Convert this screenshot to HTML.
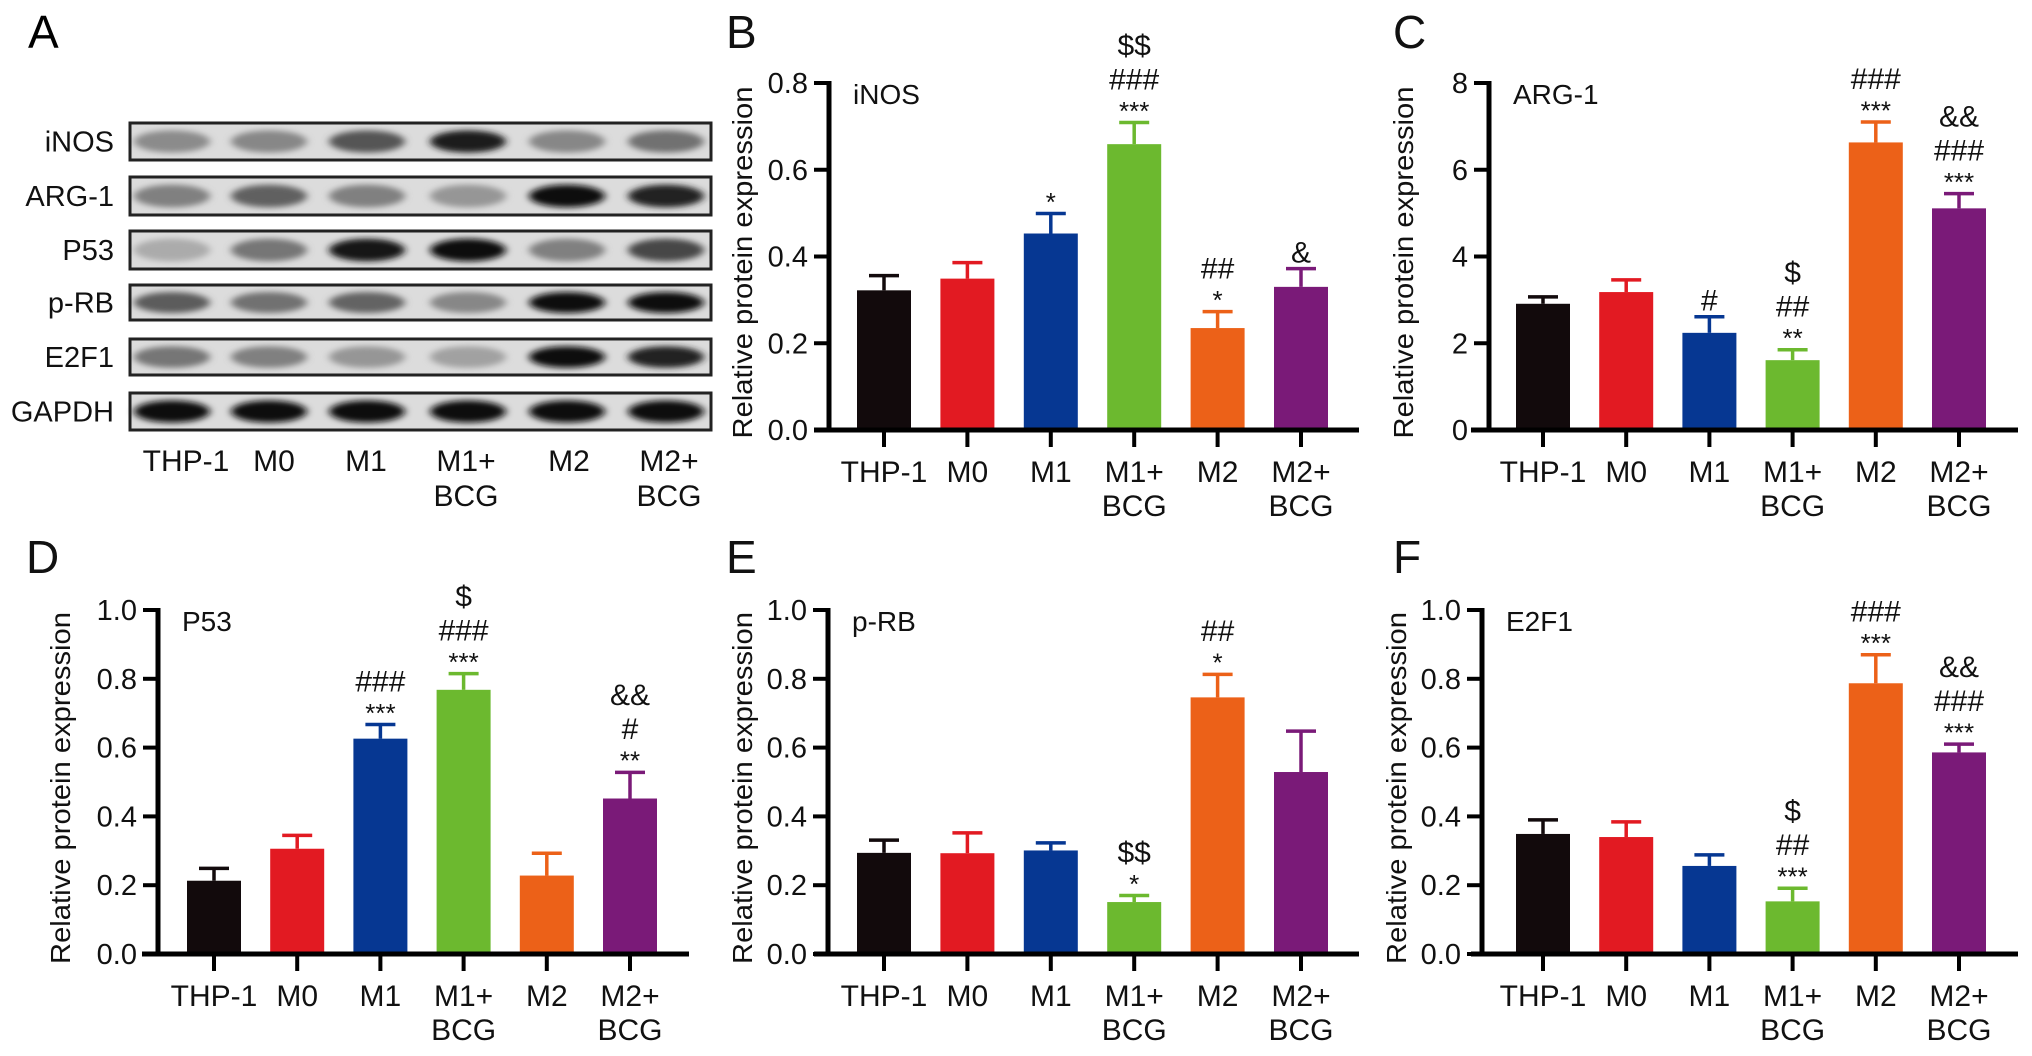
<!DOCTYPE html>
<html><head><meta charset="utf-8">
<style>
html,body{margin:0;padding:0;background:#fff;}
svg{display:block;font-family:"Liberation Sans",Arial,sans-serif;}
</style></head>
<body>
<svg id="fig" width="2032" height="1056" viewBox="0 0 2032 1056" xmlns="http://www.w3.org/2000/svg">
<defs>
<filter id="blur" x="-30%" y="-60%" width="160%" height="220%"><feGaussianBlur stdDeviation="4 3"/></filter>
</defs>
</svg>
<script>
// ---------- data ----------
const categories = ["THP-1","M0","M1","M1+\nBCG","M2","M2+\nBCG"];
const colors = ["#120a0c","#e21a22","#063792","#6cb92f","#ec6118","#7a1a78"];

const inosValues = [0.322,0.349,0.453,0.659,0.235,0.330];
const inosErrors = [0.356,0.386,0.499,0.709,0.273,0.372];
const inosAnnot = ["","","*","***\n###\n$$","*\n##","&"];
const inosTicks = ["0.0","0.2","0.4","0.6","0.8"];

const argValues = [2.91,3.18,2.24,1.61,6.63,5.11];
const argErrors = [3.07,3.46,2.61,1.85,7.10,5.45];
const argAnnot = ["","","#","**\n##\n$","***\n###","***\n###\n&&"];
const argTicks = ["0","2","4","6","8"];

const p53Values = [0.213,0.306,0.626,0.768,0.228,0.452];
const p53Errors = [0.249,0.345,0.667,0.815,0.293,0.528];
const p53Annot = ["","","***\n###","***\n###\n$","","**\n#\n&&"];

const prbValues = [0.294,0.293,0.301,0.151,0.746,0.529];
const prbErrors = [0.331,0.352,0.323,0.170,0.813,0.648];
const prbAnnot = ["","","","*\n$$","*\n##",""];

const e2fValues = [0.349,0.340,0.256,0.153,0.787,0.586];
const e2fErrors = [0.390,0.384,0.288,0.191,0.870,0.610];
const e2fAnnot = ["","","","***\n##\n$","***\n###","***\n###\n&&"];
const unitTicks = ["0.0","0.2","0.4","0.6","0.8","1.0"];

const blotRows = ["iNOS","ARG-1","P53","p-RB","E2F1","GAPDH"];
const blotIntensity = [
  [0.40,0.42,0.65,0.92,0.42,0.52],
  [0.45,0.60,0.45,0.35,0.97,0.88],
  [0.25,0.50,0.95,0.97,0.45,0.72],
  [0.62,0.52,0.58,0.42,0.98,0.98],
  [0.50,0.45,0.35,0.30,0.98,0.88],
  [0.97,0.97,0.97,0.97,1.00,0.97]
];

// ---------- helpers ----------
const svg = document.getElementById('fig');
const NS = "http://www.w3.org/2000/svg";
function mk(tag, attrs, parent){
  const e = document.createElementNS(NS, tag);
  for (const k in attrs) e.setAttribute(k, attrs[k]);
  (parent||svg).appendChild(e);
  return e;
}
function txt(str, attrs, parent){
  const t = mk('text', attrs, parent);
  t.textContent = str;
  return t;
}

// ---------- panel A (blot) ----------
(function(){
  const g = mk('g', {});
  
  
  const L = txt("A", {x:28, y:48, 'font-size':46}, g);
  
  
  const rowTop = [123,177,231,285,339,393];
  const rowBot = [160,215,269,320,375,430];
  const laneX = [172,269,367,468,567,666];
  blotRows.forEach((name, r) => {
    const y0 = rowTop[r], h = rowBot[r]-rowTop[r];
    const box = mk('rect', {x:130, y:y0, width:581, height:h, fill:"#dcdcdc", stroke:"#222", 'stroke-width':3}, g);
    
    
    blotIntensity[r].forEach((v, i) => {
      const c = Math.round(225 - 215*v);
      const band = mk('ellipse', {cx:laneX[i], cy:y0+h/2, rx:38, ry:h*0.30, fill:`rgb(${c},${c},${c})`, filter:"url(#blur)"}, g);
      
      
    });
    mk('rect', {x:130, y:y0, width:581, height:h, fill:"none", stroke:"#222", 'stroke-width':3}, g);
    const lab = txt(name, {x:114, y:y0+h/2+10, 'font-size':29, 'text-anchor':'end', fill:'#111'}, g);
    
    
  });
  const laneLabX = [186,274,366,466,569,669];
  categories.forEach((c, i) => {
    c.split("\n").forEach((line, j) => {
      const t = txt(line, {x:laneLabX[i], y:471+j*35, 'font-size':30, 'text-anchor':'middle', fill:'#111'}, g);
      
      
    });
  });
})();

// ---------- bar chart panels ----------
function barPanel(cfg){
  const g = mk('g', {});
  
  
  const yScale = v => cfg.y0 - (v / cfg.max) * (cfg.y0 - cfg.yTop);
  const xScale = i => cfg.x0 + i * cfg.step;

  const letter = txt(cfg.letter, {x:cfg.letterX, y:cfg.letterY, 'font-size':46, fill:'#111'}, g);
  
  

  const yl = txt("Relative protein expression", {x:0, y:0, 'font-size':28, 'text-anchor':'middle', fill:'#111',
    transform:`translate(${cfg.ylabX},${(cfg.y0+cfg.yTop)/2+6}) rotate(-90)`, textLength:352, lengthAdjust:'spacingAndGlyphs'}, g);
  
  

  const pn = txt(cfg.protein, {x:cfg.axisX+24, y:cfg.yTop+21, 'font-size':28, fill:'#111'}, g);
  
  

  // bars
  cfg.values.forEach((v, i) => {
    const cx = xScale(i), top = yScale(v), et = yScale(cfg.errors[i]);
    const eb = mk('line', {x1:cx, x2:cx, y1:top, y2:et, stroke:colors[i], 'stroke-width':3.5}, g);
    
    
    const cap = mk('line', {x1:cx-15, x2:cx+15, y1:et, y2:et, stroke:colors[i], 'stroke-width':3.5}, g);
    
    
    const b = mk('rect', {x:cx-27, y:top, width:54, height:cfg.y0-top, fill:colors[i]}, g);
    
    
    // annotations
    const lines = cfg.annot[i] ? cfg.annot[i].split("\n") : [];
    let center = et - 17;
    lines.forEach(s => {
      const isStar = s[0] === '*';
      const fs = isStar ? 26 : 30;
      const baseline = isStar ? center + 0.55*fs : center + 0.36*fs;
      const a = txt(s, {x:cx, y:baseline, 'font-size':fs, 'text-anchor':'middle', fill:'#111'}, g);
      
      
      center -= isStar ? 27 : 34;
    });
  });

  // axes
  const ya = mk('line', {x1:cfg.axisX, x2:cfg.axisX, y1:cfg.yTop-2, y2:cfg.y0+2, stroke:'#000', 'stroke-width':5}, g);
  
  
  const xa = mk('line', {x1:cfg.xStart, x2:cfg.xEnd, y1:cfg.y0, y2:cfg.y0, stroke:'#000', 'stroke-width':5}, g);
  
  
  cfg.ticks.forEach((t, k) => {
    const v = parseFloat(t), y = yScale(v);
    const tk = mk('line', {x1:cfg.axisX-15, x2:cfg.axisX, y1:y, y2:y, stroke:'#000', 'stroke-width':4}, g);
    
    
    const tl = txt(t, {x:cfg.axisX-21, y:y+10, 'font-size':29, 'text-anchor':'end', fill:'#111'}, g);
    
    
  });
  categories.forEach((c, i) => {
    const cx = xScale(i);
    const tk = mk('line', {x1:cx, x2:cx, y1:cfg.y0, y2:cfg.y0+17, stroke:'#000', 'stroke-width':4}, g);
    
    
    c.split("\n").forEach((line, j) => {
      const t = txt(line, {x:cx, y:cfg.y0+52+j*34, 'font-size':30, 'text-anchor':'middle', fill:'#111'}, g);
      
      
    });
  });
}

barPanel({name:'inos-chart', letter:'B', letterX:726, letterY:48, protein:'iNOS', values:inosValues, errors:inosErrors, annot:inosAnnot,
  ticks:inosTicks, max:0.8, axisX:829, y0:430, yTop:83, x0:884, step:83.4, xStart:814, xEnd:1359, ylabX:752});
barPanel({name:'arg1-chart', letter:'C', letterX:1393, letterY:48, protein:'ARG-1', values:argValues, errors:argErrors, annot:argAnnot,
  ticks:argTicks, max:8, axisX:1489, y0:430, yTop:83, x0:1543, step:83.2, xStart:1471, xEnd:2018, ylabX:1413});
barPanel({name:'p53-chart', letter:'D', letterX:26, letterY:573, protein:'P53', values:p53Values, errors:p53Errors, annot:p53Annot,
  ticks:unitTicks, max:1.0, axisX:158, y0:954, yTop:610, x0:214, step:83.2, xStart:142, xEnd:689, ylabX:70});
barPanel({name:'prb-chart', letter:'E', letterX:726, letterY:573, protein:'p-RB', values:prbValues, errors:prbErrors, annot:prbAnnot,
  ticks:unitTicks, max:1.0, axisX:828, y0:954, yTop:610, x0:884, step:83.4, xStart:814, xEnd:1359, ylabX:752});
barPanel({name:'e2f1-chart', letter:'F', letterX:1393, letterY:573, protein:'E2F1', values:e2fValues, errors:e2fErrors, annot:e2fAnnot,
  ticks:unitTicks, max:1.0, axisX:1482, y0:954, yTop:610, x0:1543, step:83.2, xStart:1471, xEnd:2018, ylabX:1406});
</script>
</body></html>
